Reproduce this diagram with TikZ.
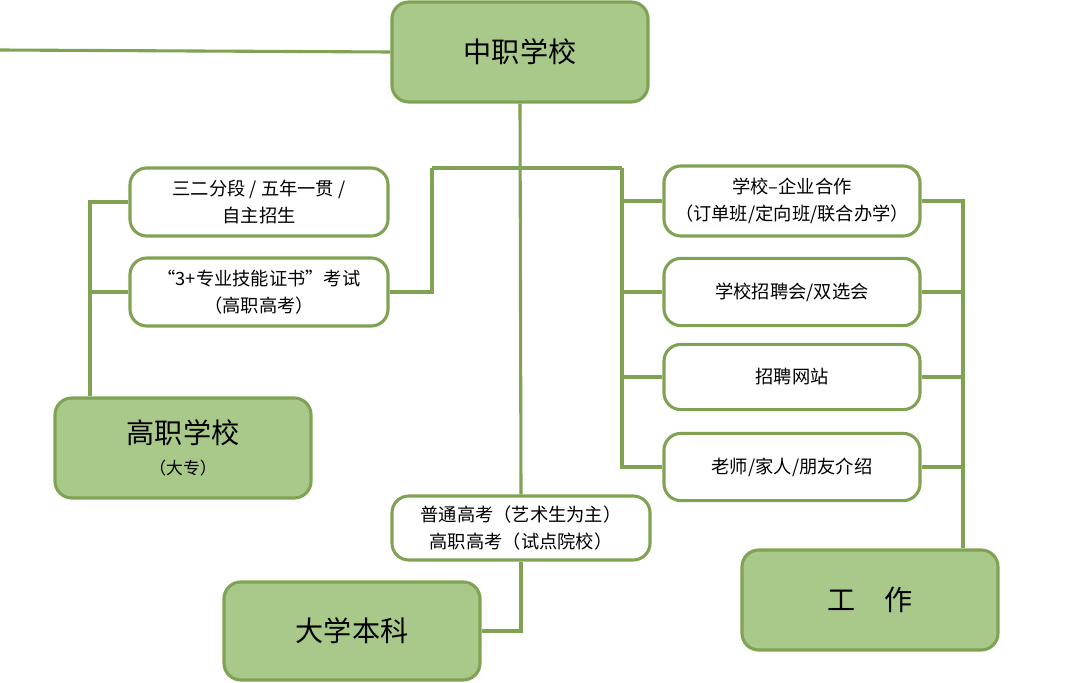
\documentclass[tikz,border=0pt]{standalone}
\usepackage{fontspec}
\newfontfamily\cjk{Noto Sans CJK SC}
\definecolor{leaf}{HTML}{A9C98A}
\definecolor{stem}{HTML}{7FA352}
\tikzset{
  bigbox/.style={draw=stem,fill=leaf,line width=2.2pt,rounded corners=12pt,font=\cjk\fontsize{20}{24}\selectfont,align=center,inner sep=0pt},
  smallbox/.style={draw=stem,fill=white,line width=2.2pt,rounded corners=12pt,font=\cjk\fontsize{13}{19}\selectfont,align=center,inner sep=0pt},
  link/.style={stem,line width=2.2pt}
}
\begin{document}
\begin{tikzpicture}[x=0.025cm,y=-0.025cm]
\useasboundingbox (0,0) rectangle (1080,683);
\node[bigbox,minimum width=6.4cm,minimum height=2.5cm] (zz) at (520,52) {中职学校};
\node[bigbox,minimum width=6.4cm,minimum height=2.5cm] (gz) at (183,448) {高职学校\\[-2pt]{\fontsize{12}{14}\selectfont（大专）}};
\node[bigbox,minimum width=6.4cm,minimum height=2.45cm] (bk) at (352,631) {大学本科};
\node[bigbox,minimum width=6.4cm,minimum height=2.5cm] (gzuo) at (870,600) {工\quad 作};
\node[smallbox,minimum width=6.45cm,minimum height=1.7cm] (sf) at (259,202) {三二分段 / 五年一贯 /\\自主招生};
\node[smallbox,minimum width=6.45cm,minimum height=1.7cm] (ks) at (259,292) {“3+专业技能证书”考试\\（高职高考）};
\node[smallbox,minimum width=6.45cm,minimum height=1.6cm] (pt) at (521,528) {普通高考（艺术生为主）\\高职高考（试点院校）};
\node[smallbox,minimum width=6.4cm,minimum height=1.75cm] (qy) at (792,201) {学校–企业合作\\（订单班/定向班/联合办学）};
\node[smallbox,minimum width=6.4cm,minimum height=1.68cm] (zp) at (792,292) {学校招聘会/双选会};
\node[smallbox,minimum width=6.4cm,minimum height=1.63cm] (wz) at (792,377) {招聘网站};
\node[smallbox,minimum width=6.4cm,minimum height=1.68cm] (js) at (792,467) {老师/家人/朋友介绍};
\coordinate (far) at (0,50);
\coordinate (tl) at (432,168);
\coordinate (tr) at (622,168);
\draw[link] (far) -- (zz.west);
\draw[link] (zz.south) -- (pt.north);
\draw[link] (tl) -- (tr);
\draw[link] (tl) |- (ks.east);
\draw[link] (tr) |- (js.west);
\foreach \b in {qy,zp,wz} \draw[link] (tr|-\b.west) -- (\b.west);
\draw[link] (gz.north-|90,0) |- (sf.west);
\draw[link] (90,292) -- (ks.west);
\draw[link] (gzuo.north-|963,0) |- (qy.east);
\foreach \b in {zp,wz,js} \draw[link] (\b.east) -- (963,0|-\b.east);
\draw[link] (pt.south) |- (bk.east);
\end{tikzpicture}
\end{document}
